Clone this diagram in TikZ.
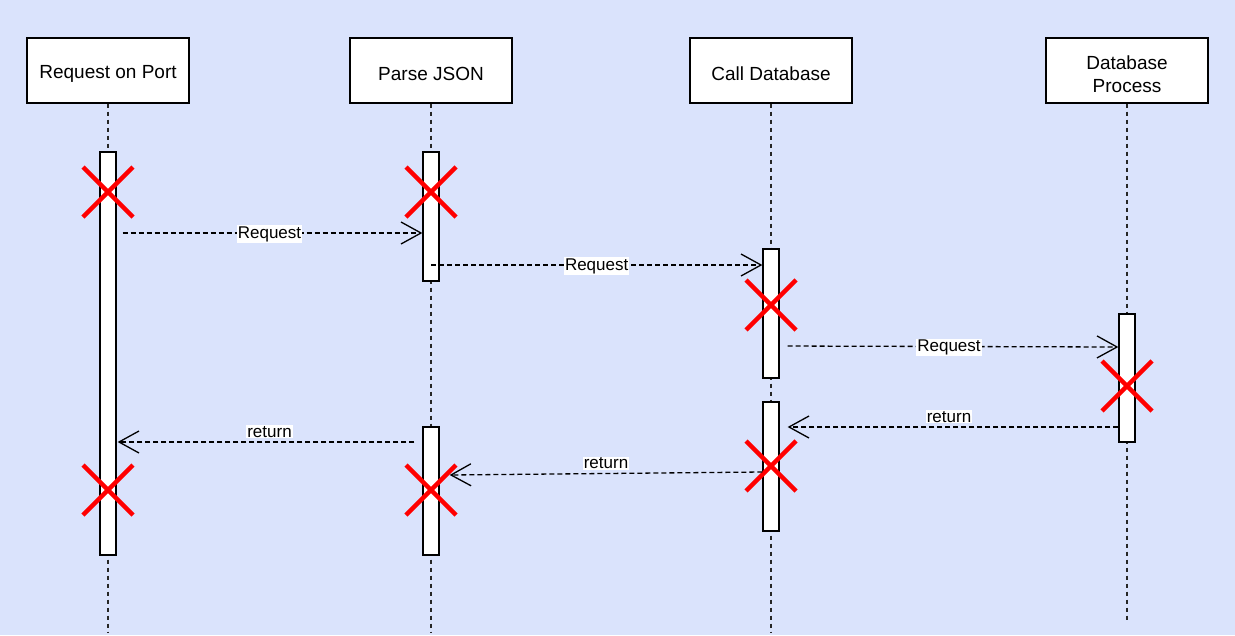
\documentclass[tikz,border=0pt]{standalone}
\usepackage{fontspec}
\setmainfont{Liberation Sans}
\usetikzlibrary{arrows.meta,calc}
\definecolor{bgblue}{RGB}{218,227,252}
\definecolor{xred}{RGB}{255,0,0}
\def\killmark(#1,#2){\draw[kill] (#1-25,#2-25) -- (#1+25,#2+25) (#1-25,#2+25) -- (#1+25,#2-25);}

\tikzset{
	actor/.style={draw, line width=1.3pt, fill=white, minimum width=162pt, minimum height=65pt, inner sep=0pt},
	hdtext/.style={inner sep=0pt, align=center, yshift=-3.5pt, font=\fontsize{19}{23}\selectfont},
	lifeline/.style={line width=1.3pt, dash pattern=on 4pt off 4pt, color=black!85},
	actbar/.style={draw, line width=1.3pt, fill=white, minimum width=16pt, inner sep=0pt},
	msg/.style={line width=1.3pt, dash pattern=on 5pt off 3pt, -{Straight Barb[length=20pt,width=22pt]}},
	lbl/.style={fill=white, inner sep=1pt, font=\fontsize{17}{20}\selectfont},
	kill/.style={line width=4.5pt, color=xred}
}

\begin{document}
\begin{tikzpicture}[x=1pt, y=-1pt]
		%%%%% START %%%%%
		
		\fill[bgblue] (0,0) rectangle (1235,635);
		\useasboundingbox (0,0) rectangle (1235,635);
		
		\node[actor, label={[hdtext]center:Request on Port}] (rop) at (108, 70.5) {};
		\node[actor, label={[hdtext]center:Parse JSON}] (pj) at (431, 70.5) {};
		\node[actor, label={[hdtext]center:Call Database}] (cd) at (771, 70.5) {};
		\node[actor, label={[hdtext]center:Database\\Process}] (dp) at (1127, 70.5) {};
		
		\coordinate (rop-end) at (108, 632);
		\coordinate (pj-end) at (431, 632);
		\coordinate (cd-end) at (771, 632);
		\coordinate (dp-end) at (1127, 620);
		
		\draw[lifeline] (rop.south) -- (rop-end);
		\draw[lifeline] (pj.south) -- (pj-end);
		\draw[lifeline] (cd.south) -- (cd-end);
		\draw[lifeline] (dp.south) -- (dp-end);
		
		\node[actbar, minimum height=403pt] (rop-act) at (108, 353.5) {};
		\node[actbar, minimum height=129pt] (pj-act1) at (431, 216.5) {};
		\node[actbar, minimum height=128pt] (pj-act2) at (431, 491) {};
		\node[actbar, minimum height=129pt] (cd-act1) at (771, 313.5) {};
		\node[actbar, minimum height=129pt] (cd-act2) at (771, 466.5) {};
		\node[actbar, minimum height=128pt] (dp-act) at (1127, 378) {};
		
		\killmark(108,192)
		\killmark(431,192)
		\killmark(771,305)
		\killmark(1127,386)
		\killmark(108,490)
		\killmark(431,490)
		\killmark(771,466)
		
		\draw[msg, shorten <=6pt] (rop-act.east |- 0,233) -- node[lbl, yshift=-1pt] {Request} (pj-act1.west |- 0,233);
		\draw[msg] (pj-act1.center |- 0,265) -- node[lbl, yshift=-1pt] {Request} (cd-act1.west |- 0,265);
		\draw[msg, shorten <=8pt] (cd-act1.east |- 0,346) -- node[lbl, yshift=-1pt] {Request} (dp-act.west |- 0,347);
		
		\draw[msg, shorten >=8pt] (dp-act.west |- 0,427) -- node[lbl, above=3pt] {return} (cd-act2.east |- 0,427);
		\draw[msg, shorten <=8pt, shorten >=1pt] (pj-act2.west |- 0,442) -- node[lbl, above=3pt] {return} (rop-act.east |- 0,442);
		\draw[msg] (cd-act2.west |- 0,472) -- node[lbl, above=3pt] {return} ($(pj-act2.east |- 0,475)+(10,0)$);
		
		%%%%% END %%%%%
	\end{tikzpicture}
\end{document}
